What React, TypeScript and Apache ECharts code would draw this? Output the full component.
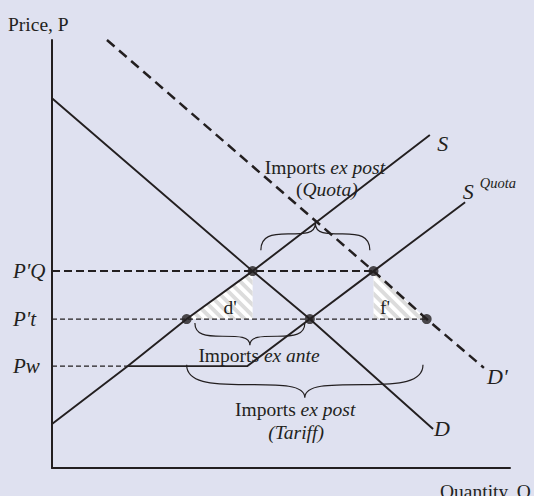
import React, { useEffect, useRef } from "react";
import * as echarts from "echarts";

// ---------- data (Quantity 0..100, Price 0..100) ----------
const demandD = [[0, 86.4], [43.8, 46.0], [56.3, 34.8], [83.2, 9.1]];
const demandDPrime = [[12.0, 100], [70.2, 46.0], [81.8, 34.8], [94.3, 23.4]];
const supplyS = [[0, 10.3], [16.5, 23.8], [29.4, 34.8], [43.8, 46.0], [82.5, 77.8]];
const supplyQuota = [[16.5, 23.8], [42.6, 23.8], [56.3, 34.8], [70.2, 46.0], [90.2, 62.1]];

const priceNames = ["P'Q", "P't", "Pw"];
const priceValues = [46.0, 34.8, 23.8];
const priceLineEndQ = [70.2, 81.8, 16.5];

const markedPoints = [[43.8, 46.0], [29.4, 34.8], [56.3, 34.8], [70.2, 46.0], [81.8, 34.8]];

const triangleDPrime = [[29.4, 34.8], [43.8, 46.0], [43.8, 34.8]];
const triangleFPrime = [[70.2, 46.0], [70.2, 34.8], [81.8, 34.8]];

const braceLeftQ = [45.6, 31.2, 29.4];
const braceRightQ = [69.4, 55.2, 81.0];
const braceEndP = [50.9, 33.9, 24.1];
const braceTipP = [57.2, 28.7, 16.4];

const noteTexts = [
  "{n|Imports }{i|ex post}",
  "{n|(}{i|Quota)}",
  "{n|Imports }{i|ex ante}",
  "{n|Imports }{i|ex post}",
  "{i|(Tariff)}",
  "{n|d'}",
  "{n|f'}",
];
const noteQ = [59.6, 60.0, 45.2, 53.1, 53.3, 38.9, 72.7];
const noteP = [70.1, 65.0, 26.4, 13.6, 8.4, 37.6, 37.6];

const curveNames = ["S", "S", "Quota", "D", "D'"];
const curveNameQ = [84.1, 89.7, 93.4, 83.4, 95.0];
const curveNameP = [75.9, 64.7, 66.6, 9.3, 21.4];

const axisNames = ["Price, P", "Quantity, Q"];

// ---------- styling ----------
const INK = "#231f20";
const BG = "#dfe1f0";
const FONT = "'Liberation Serif', 'Times New Roman', serif";

function clipHalf(poly: number[][], f: (p: number[]) => number) {
  const out: number[][] = [];
  for (let i = 0; i < poly.length; i++) {
    const a = poly[i];
    const b = poly[(i + 1) % poly.length];
    const fa = f(a);
    const fb = f(b);
    if (fa >= 0) out.push(a);
    if ((fa >= 0) !== (fb >= 0)) {
      const t = fa / (fa - fb);
      out.push([a[0] + t * (b[0] - a[0]), a[1] + t * (b[1] - a[1])]);
    }
  }
  return out;
}

function hatchedTriangle(pts: number[][]) {
  const children: any[] = [
    { type: "polygon", shape: { points: pts }, style: { fill: "#ffffff", stroke: "none" } },
  ];
  const period = 11;
  const w = 5.5;
  const us = pts.map((p) => p[0] - p[1]);
  const umin = Math.min(...us);
  const umax = Math.max(...us);
  for (let k = Math.floor(umin / period) - 1; k <= Math.ceil(umax / period) + 1; k++) {
    const c0 = k * period;
    let poly = clipHalf(pts, (p) => p[0] - p[1] - c0);
    if (poly.length < 3) continue;
    poly = clipHalf(poly, (p) => c0 + w - (p[0] - p[1]));
    if (poly.length < 3) continue;
    children.push({ type: "polygon", shape: { points: poly }, style: { fill: "#dcdcdc", stroke: "none" } });
  }
  return { type: "group", children };
}

function bracePath(x1: number, x2: number, yE: number, yT: number) {
  const m = (x1 + x2) / 2;
  const L = m - x1;
  const yA = yE + 0.6 * (yT - yE);
  const yC = yE + 0.9 * (yA - yE);
  return (
    `M${x1},${yE} C${x1},${yC} ${x1 + 0.2 * L},${yA} ${x1 + 0.5 * L},${yA} ` +
    `C${m - 0.2 * L},${yA} ${m},${yA} ${m},${yT} ` +
    `C${m},${yA} ${m + 0.2 * L},${yA} ${m + 0.5 * L},${yA} ` +
    `C${x2 - 0.2 * L},${yA} ${x2},${yC} ${x2},${yE}`
  );
}

const rich = {
  n: { fontFamily: FONT, fontSize: 19.5, color: INK, fontStyle: "normal", textBorderWidth: 0 },
  i: { fontFamily: FONT, fontSize: 19.5, color: INK, fontStyle: "italic", textBorderWidth: 0 },
};

const labelCarrier = {
  type: "scatter",
  silent: true,
  z: 7,
  symbol: "circle",
  symbolSize: 1,
  itemStyle: { color: "rgba(0,0,0,0)" },
  emphasis: { disabled: true },
};

export default function App() {
  const ref = useRef<HTMLDivElement>(null);

  useEffect(() => {
    if (!ref.current) return;
    const chart = echarts.init(ref.current, null, { renderer: "svg" });
    const triangles = [triangleDPrime, triangleFPrime];

    const priceSeries = priceValues.map((p, i) => ({
      type: "line",
      data: [[0, p], [priceLineEndQ[i], p]],
      symbol: "none",
      silent: true,
      z: 3,
      lineStyle: {
        color: INK,
        width: i === 0 ? 2 : 1.3,
        type: i === 0 ? [8, 4] : [5, 3],
      },
    }));

    const solid = (data: number[][]) => ({
      type: "line",
      data,
      symbol: "none",
      silent: true,
      z: 4,
      lineStyle: { color: INK, width: 1.9 },
    });

    const option: any = {
      animation: false,
      backgroundColor: BG,
      grid: { left: 52, top: 40, width: 458, height: 428 },
      xAxis: {
        type: "value",
        min: 0,
        max: 100,
        axisLine: { show: true, onZero: false, lineStyle: { color: INK, width: 2 } },
        axisTick: { show: false },
        axisLabel: { show: false },
        splitLine: { show: false },
      },
      yAxis: {
        type: "value",
        min: 0,
        max: 100,
        axisLine: { show: true, onZero: false, lineStyle: { color: INK, width: 2 } },
        axisTick: { show: false },
        axisLabel: { show: false },
        splitLine: { show: false },
      },
      graphic: [
        {
          type: "text",
          left: 8,
          top: 14,
          style: { text: axisNames[0], font: `19.5px ${FONT}`, fill: INK },
        },
        {
          type: "text",
          left: 440,
          top: 481,
          style: { text: axisNames[1], font: `19.5px ${FONT}`, fill: INK },
        },
      ],
      series: [
        {
          type: "custom",
          coordinateSystem: "cartesian2d",
          silent: true,
          z: 1,
          data: triangles.map((t, i) => [t[0][0], t[0][1], i]),
          renderItem: (params: any, api: any) => {
            const tri = triangles[params.dataIndex];
            const pts = tri.map((p) => api.coord(p));
            return hatchedTriangle(pts);
          },
        },
        ...priceSeries,
        solid(demandD),
        solid(supplyS),
        solid(supplyQuota),
        {
          type: "line",
          data: demandDPrime,
          symbol: "none",
          silent: true,
          z: 4,
          lineStyle: { color: INK, width: 2.5, type: [10, 6] },
        },
        {
          type: "custom",
          coordinateSystem: "cartesian2d",
          silent: true,
          z: 5,
          data: braceLeftQ.map((q, i) => [q, braceEndP[i], i]),
          renderItem: (params: any, api: any) => {
            const i = params.dataIndex;
            const a = api.coord([braceLeftQ[i], braceEndP[i]]);
            const b = api.coord([braceRightQ[i], braceTipP[i]]);
            return {
              type: "path",
              shape: { pathData: bracePath(a[0], b[0], a[1], b[1]) },
              style: { fill: "none", stroke: INK, lineWidth: 1.2 },
            };
          },
        },
        {
          type: "scatter",
          data: markedPoints,
          symbol: "circle",
          symbolSize: 10,
          silent: true,
          z: 6,
          itemStyle: { color: INK },
        },
        {
          ...labelCarrier,
          data: noteTexts.map((t, i) => ({
            value: [noteQ[i], noteP[i]],
            label: { formatter: t },
          })),
          label: {
            show: true,
            position: "inside",
            align: "center",
            verticalAlign: "middle",
            opacity: 1,
            textBorderWidth: 0,
            rich,
          },
        },
        {
          ...labelCarrier,
          data: priceNames.map((t, i) => ({ value: [0, priceValues[i]], label: { formatter: t } })),
          label: {
            show: true,
            position: "inside",
            align: "left",
            verticalAlign: "middle",
            offset: [-39, 0],
            fontFamily: FONT,
            fontSize: 21,
            fontStyle: "italic",
            color: INK,
            opacity: 1,
            textBorderWidth: 0,
          },
        },
        {
          ...labelCarrier,
          data: curveNames.map((t, i) => ({
            value: [curveNameQ[i], curveNameP[i]],
            label: { formatter: t, fontSize: t === "Quota" ? 14.5 : 22 },
          })),
          label: {
            show: true,
            position: "inside",
            align: "left",
            verticalAlign: "middle",
            fontFamily: FONT,
            fontStyle: "italic",
            color: INK,
            opacity: 1,
            textBorderWidth: 0,
          },
        },
      ],
    };
    chart.setOption(option);
    return () => chart.dispose();
  }, []);

  return (
    <div
      ref={ref}
      style={{ position: "absolute", left: 0, top: 0, width: 534, height: 496, background: BG }}
    />
  );
}
